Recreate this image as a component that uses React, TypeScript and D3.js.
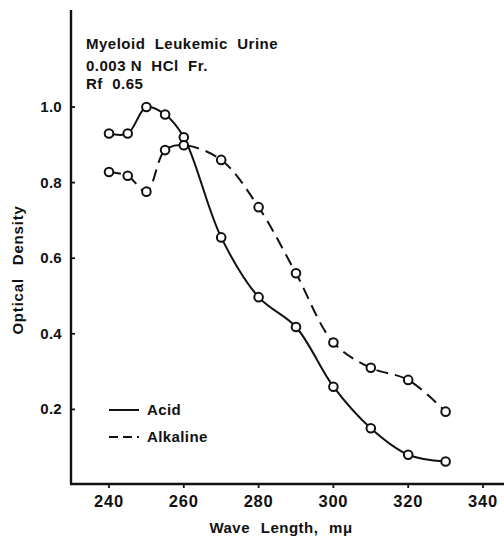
import { useEffect, useRef } from "react";
import * as d3 from "d3";

const waveLengths = [240, 245, 250, 255, 260, 270, 280, 290, 300, 310, 320, 330];
const acidValues = [0.93, 0.93, 1.0, 0.98, 0.92, 0.655, 0.497, 0.418, 0.26, 0.15, 0.08, 0.062];
const alkalineValues = [0.828, 0.818, 0.776, 0.886, 0.899, 0.86, 0.735, 0.56, 0.377, 0.31, 0.278, 0.194];
const xTicks = [240, 260, 280, 300, 320, 340];
const yTicks = [0.2, 0.4, 0.6, 0.8, 1.0];
const titleLines = ["Myeloid  Leukemic  Urine", "0.003 N  HCl  Fr.", "Rf  0.65"];
const titleBaselines = [49, 71, 89];

const W = 504;
const H = 537;
const FONT = "'Liberation Sans', Arial, sans-serif";

const App = () => {
  const svgRef = useRef<SVGSVGElement | null>(null);

  useEffect(() => {
    const svg = d3.select(svgRef.current).attr("width", W).attr("height", H);
    svg.selectAll("*").remove();

    const x = d3.scaleLinear().domain([240, 340]).range([109, 483]);
    const y = d3.scaleLinear().domain([0, 1]).range([485, 107]);
    const axisX = 71;
    const axisY = 484;

    // axes
    svg.append("line").attr("x1", axisX).attr("x2", axisX).attr("y1", 10).attr("y2", axisY)
      .attr("stroke", "#111").attr("stroke-width", 2.4);
    svg.append("line").attr("x1", axisX - 1).attr("x2", W).attr("y1", axisY).attr("y2", axisY)
      .attr("stroke", "#111").attr("stroke-width", 2.4);

    const g = svg.append("g").attr("font-family", FONT).attr("font-weight", "bold").attr("fill", "#111");

    xTicks.forEach((t) => {
      svg.append("line").attr("x1", x(t)).attr("x2", x(t)).attr("y1", axisY).attr("y2", axisY + 4)
        .attr("stroke", "#111").attr("stroke-width", 1.8);
      g.append("text").attr("x", x(t)).attr("y", 507).attr("text-anchor", "middle")
        .attr("font-size", 16.5).attr("letter-spacing", 0.8).text(String(t));
    });

    yTicks.forEach((t) => {
      svg.append("line").attr("x1", axisX).attr("x2", axisX + 4).attr("y1", y(t)).attr("y2", y(t))
        .attr("stroke", "#111").attr("stroke-width", 1.8);
      g.append("text").attr("x", 62).attr("y", y(t) + 5).attr("text-anchor", "end")
        .attr("font-size", 15).attr("letter-spacing", 0.3).text(t.toFixed(1));
    });

    g.append("text").attr("x", 281).attr("y", 533).attr("text-anchor", "middle")
      .attr("font-size", 15).attr("letter-spacing", 0.5).attr("word-spacing", 6)
      .text("Wave  Length, m\u03bc");

    g.append("text").attr("transform", "translate(23,270) rotate(-90)").attr("text-anchor", "middle")
      .attr("font-size", 15).attr("letter-spacing", 0.8).attr("word-spacing", 8)
      .text("Optical  Density");

    titleLines.forEach((line, i) => {
      g.append("text").attr("x", 86).attr("y", titleBaselines[i]).attr("font-size", 15)
        .attr("letter-spacing", 0.5).style("white-space", "pre").text(line);
    });

    // legend
    svg.append("line").attr("x1", 109).attr("x2", 139).attr("y1", 410).attr("y2", 410)
      .attr("stroke", "#111").attr("stroke-width", 2);
    svg.append("line").attr("x1", 109).attr("x2", 139).attr("y1", 437).attr("y2", 437)
      .attr("stroke", "#111").attr("stroke-width", 2).attr("stroke-dasharray", "9,5");
    g.append("text").attr("x", 147).attr("y", 415).attr("font-size", 15).attr("letter-spacing", 0.4).text("Acid");
    g.append("text").attr("x", 147).attr("y", 442).attr("font-size", 15).attr("letter-spacing", 0.4).text("Alkaline");

    const line = d3.line<number>()
      .x((_, i) => x(waveLengths[i]))
      .y((d) => y(d))
      .curve(d3.curveCatmullRom.alpha(0.5));

    const series = [
      { values: acidValues, dash: null },
      { values: alkalineValues, dash: "12,7" },
    ];

    series.forEach((s) => {
      svg.append("path").datum(s.values).attr("d", line).attr("fill", "none")
        .attr("stroke", "#111").attr("stroke-width", 2)
        .attr("stroke-dasharray", s.dash);
    });

    series.forEach((s) => {
      svg.append("g").selectAll("circle").data(s.values).enter().append("circle")
        .attr("cx", (_, i) => x(waveLengths[i])).attr("cy", (d) => y(d)).attr("r", 4.3)
        .attr("fill", "white").attr("stroke", "#111").attr("stroke-width", 2);
    });
  }, []);

  return <svg ref={svgRef} style={{ position: "absolute", left: 0, top: 0, background: "white" }} />;
};

export default App;
